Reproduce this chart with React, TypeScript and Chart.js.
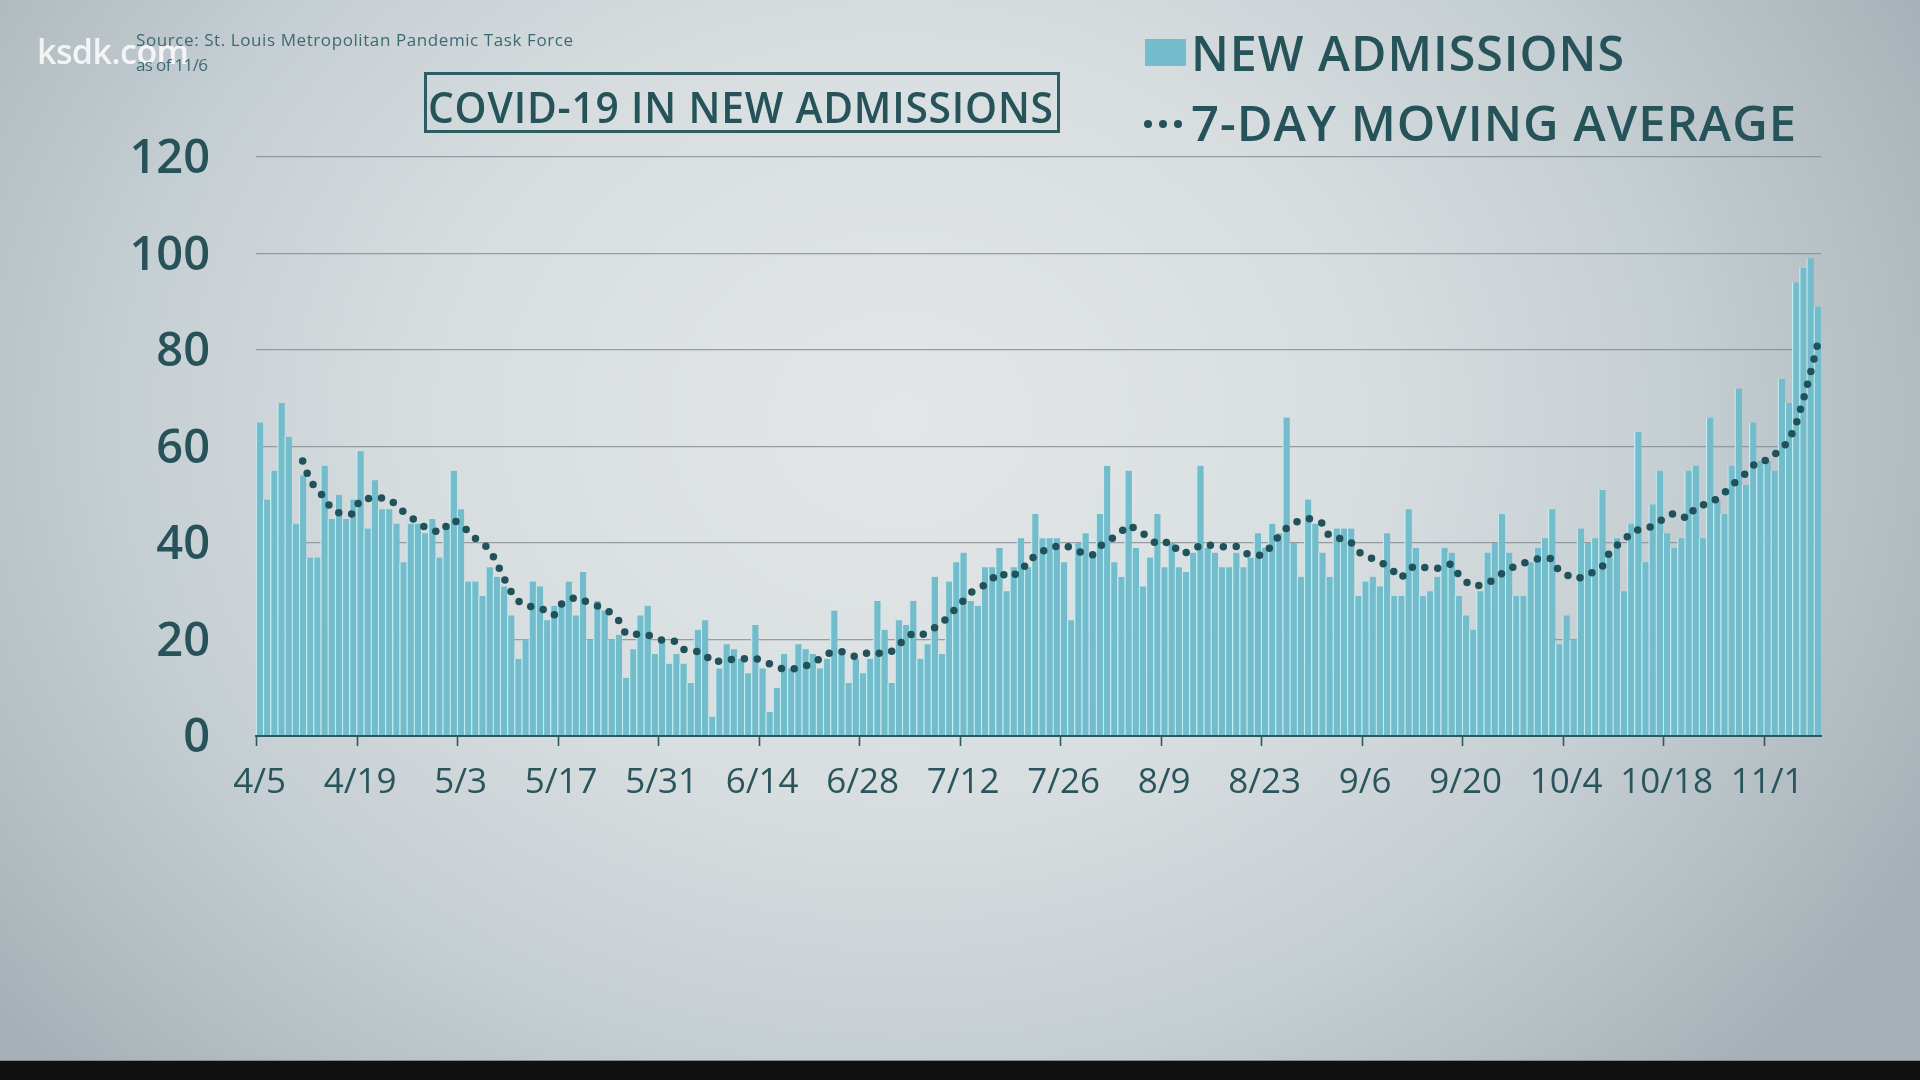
import React, { useEffect, useRef } from 'react';
import { Chart, registerables } from 'chart.js';

Chart.register(...registerables);

// ---------- DATA ----------
const START_DATE = [2020, 3, 5]; // April 5
const ADMISSIONS: number[] = [
  65, 49, 55, 69, 62, 44, 54, 37, 37, 56,
  45, 50, 45, 49, 59, 43, 53, 47, 47, 44,
  36, 44, 44, 42, 45, 37, 44, 55, 47, 32,
  32, 29, 35, 33, 31, 25, 16, 20, 32, 31,
  24, 27, 28, 32, 25, 34, 20, 28, 26, 20,
  21, 12, 18, 25, 27, 17, 20, 15, 17, 15,
  11, 22, 24, 4, 14, 19, 18, 16, 13, 23,
  14, 5, 10, 17, 14, 19, 18, 17, 14, 16,
  26, 17, 11, 16, 13, 16, 28, 22, 11, 24,
  23, 28, 16, 19, 33, 17, 32, 36, 38, 28,
  27, 35, 35, 39, 30, 35, 41, 35, 46, 41,
  41, 41, 36, 24, 40, 42, 38, 46, 56, 36,
  33, 55, 39, 31, 37, 46, 35, 40, 35, 34,
  38, 56, 39, 38, 35, 35, 38, 35, 37, 42,
  39, 44, 42, 66, 40, 33, 49, 44, 38, 33,
  43, 43, 43, 29, 32, 33, 31, 42, 29, 29,
  47, 39, 29, 30, 33, 39, 38, 29, 25, 22,
  30, 38, 40, 46, 38, 29, 29, 36, 39, 41,
  47, 19, 25, 20, 43, 40, 41, 51, 37, 41,
  30, 44, 63, 36, 48, 55, 42, 39, 41, 55,
  56, 41, 66, 49, 46, 56, 72, 52, 65, 57,
  57, 55, 74, 69, 94, 97, 99, 89,
];
const MOVING_AVG: (number | null)[] = [
  null, null, null, null, null, null,
  57, 53, 51, 49.5, 47, 46.3, 46, 46, 49, 49.2,
  49.4, 49.3, 49.1, 48, 46.5, 45.3, 44.5, 43.3, 42.8, 42.1,
  43.5, 44.8, 43.8, 42.5, 41, 40, 38.7, 36, 32.8, 30,
  28, 27, 26.8, 26.6, 25.8, 25, 27.3, 28.2, 28.7, 28.2,
  27.5, 27, 26.3, 25.5, 24, 21.2, 21, 21.2, 21, 20.3,
  19.9, 19.8, 19.6, 18, 17.6, 17.5, 17, 15.3, 15.5, 15.8,
  15.9, 16, 16, 16.1, 15.7, 15, 14.5, 13.8, 13.9, 14,
  14.5, 15, 16, 17.1, 17.3, 17.5, 17, 16.4, 16.8, 17.4,
  17.2, 17, 17.5, 18.7, 20.5, 21.2, 20.8, 21.5, 22.4, 23.5,
  24.7, 26.5, 28, 29.7, 30.5, 31.3, 32.5, 33.9, 33.2, 33,
  35, 35.3, 37.6, 38.2, 39, 39.3, 39.6, 39, 38.3, 37.8,
  37.5, 39.3, 40.2, 41.2, 42.3, 43.7, 43, 42, 41, 39.7,
  40, 40.3, 38, 38, 38.6, 39.5, 39.6, 39.4, 39.2, 39.3,
  39.3, 38.2, 37.4, 37.4, 37.6, 39.6, 41.5, 43, 44.2, 44.6,
  45.1, 44.7, 44.1, 41.4, 41, 40.9, 40.2, 38.3, 37.2, 36.8,
  36.2, 35.2, 34.1, 32.7, 34.5, 35.3, 35, 34.8, 34.7, 35.2,
  35.7, 33.5, 32, 31, 31.2, 31.6, 32.5, 33.6, 34.5, 35.3,
  35.8, 36.3, 36.7, 36.8, 36.8, 34.2, 33.5, 32.6, 32.8, 33.3,
  34.2, 35, 37.9, 39.5, 40.3, 42.2, 42.7, 42.8, 43.5, 44.5,
  45.3, 46.2, 45.6, 45.1, 47.5, 47.9, 48.2, 49.2, 50.3, 52,
  53, 54.4, 56, 57.1, 57.1, 58.3, 59.5, 61.2, 64.5, 69.5,
  75, 81,
];
const TICK_LABELS: string[] = ['4/5', '4/19', '5/3', '5/17', '5/31', '6/14', '6/28', '7/12', '7/26', '8/9', '8/23', '9/6', '9/20', '10/4', '10/18', '11/1'];
const Y_MIN = 0;
const Y_MAX = 120;
const Y_STEP = 20;

function makeDates(n: number): string[] {
  const out: string[] = [];
  const d = new Date(START_DATE[0], START_DATE[1], START_DATE[2]);
  for (let i = 0; i < n; i++) {
    out.push(`${d.getMonth() + 1}/${d.getDate()}`);
    d.setDate(d.getDate() + 1);
  }
  return out;
}
const DATES = makeDates(ADMISSIONS.length);

// ---------- STYLE ----------
const FONT = "'Open Sans', sans-serif";
const DARK = '#26535a';
const AXIS = '#2d5a61';
const BAR = '#72bccb';

let measureCtx: CanvasRenderingContext2D | null = null;
function measure(text: string, font: string): number {
  if (!measureCtx) measureCtx = document.createElement('canvas').getContext('2d');
  measureCtx!.font = font;
  return measureCtx!.measureText(text).width;
}

type FitProps = {
  text: string; left: number; capCenter: number; size: number; weight: number;
  color: string; width: number; opacity?: number; mode?: 'stretch' | 'space'; spacingEm?: number;
};
function FitText({ text, left, capCenter, size, weight, color, width, opacity, mode = 'space', spacingEm = 0.02 }: FitProps) {
  const font = `${weight} ${size}px 'Open Sans'`;
  const w = measure(text, font);
  let ls = (width - w) / Math.max(1, text.length - 1);
  let k = 1;
  if (mode === 'stretch') {
    ls = spacingEm * size;
    k = width / (w + ls * (text.length - 1));
  }
  const top = capCenter - 0.531 * size;
  return (
    <div
      style={{
        position: 'absolute', left, top, fontFamily: FONT, fontSize: size, fontWeight: weight,
        lineHeight: `${size}px`, letterSpacing: ls, color, whiteSpace: 'nowrap', opacity: opacity ?? 1,
        transform: `scaleX(${k})`, transformOrigin: 'left center',
      }}
    >
      {text}
    </div>
  );
}

export default function App() {
  const canvasRef = useRef<HTMLCanvasElement | null>(null);

  useEffect(() => {
    if (!canvasRef.current) return;
    const tickSet = new Set(TICK_LABELS);

    const dateTicks = {
      id: 'dateTicks',
      afterDraw(chart: any) {
        const xs = chart.scales.x;
        const c = chart.ctx;
        const half = (xs.getPixelForValue(1) - xs.getPixelForValue(0)) / 2;
        c.save();
        c.strokeStyle = AXIS;
        c.lineWidth = 1.6;
        DATES.forEach((d, i) => {
          if (!tickSet.has(d)) return;
          const px = Math.round(xs.getPixelForValue(i) - half) + 0.5;
          c.beginPath();
          c.moveTo(px, xs.top);
          c.lineTo(px, xs.top + 10);
          c.stroke();
        });
        c.restore();
      },
    };

    const chart = new Chart(canvasRef.current, {
      type: 'bar',
      data: {
        labels: DATES,
        datasets: [
          {
            type: 'line',
            label: '7-DAY MOVING AVERAGE',
            data: MOVING_AVG,
            borderColor: '#21525a',
            borderWidth: 7.5,
            borderDash: [0, 13],
            borderCapStyle: 'round',
            borderJoinStyle: 'round',
            pointRadius: 0,
            fill: false,
            tension: 0,
            order: 1,
          } as any,
          {
            type: 'bar',
            label: 'NEW ADMISSIONS',
            data: ADMISSIONS,
            backgroundColor: BAR,
            borderColor: '#c2ebf2',
            borderWidth: { left: 1.3, right: 0, top: 0, bottom: 0 },
            borderSkipped: 'bottom',
            barPercentage: 1,
            categoryPercentage: 1,
            order: 2,
          } as any,
        ],
      },
      options: {
        responsive: false,
        maintainAspectRatio: false,
        animation: false,
        devicePixelRatio: 1,
        layout: { padding: { top: 157, right: 99, bottom: 0, left: 0 } },
        plugins: { legend: { display: false }, tooltip: { enabled: false }, title: { display: false } },
        scales: {
          x: {
            type: 'category',
            offset: true,
            grid: {
              display: true,
              drawOnChartArea: false,
              drawTicks: true,
              tickLength: 10,
              offset: true,
              tickColor: 'rgba(0,0,0,0)',
            },
            border: { display: true, color: AXIS, width: 2, z: 1 },
            ticks: {
              autoSkip: false,
              maxRotation: 0,
              minRotation: 0,
              padding: 16,
              color: '#2a555d',
              font: { family: 'Open Sans', size: 35, weight: '500' },
              callback: (_v: any, idx: number) => (tickSet.has(DATES[idx]) ? DATES[idx] : null),
            },
            afterFit: (s: any) => { s.height = 1080 - 736; },
          },
          y: {
            min: Y_MIN,
            max: Y_MAX,
            ticks: {
              stepSize: Y_STEP,
              padding: 46,
              labelOffset: 3,
              color: '#27525a',
              font: { family: 'Open Sans', size: 47, weight: '600' },
            },
            grid: { color: 'rgba(125,135,140,0.75)', lineWidth: 1.2, drawTicks: false },
            border: { display: false },
            afterFit: (s: any) => { s.width = 256; },
          },
        },
      } as any,
      plugins: [dateTicks],
    });
    return () => chart.destroy();
  }, []);

  return (
    <div
      style={{
        position: 'fixed', left: 0, top: 0, width: 1920, height: 1080, overflow: 'hidden',
        background:
          'radial-gradient(ellipse 1150px 950px at 900px 420px, #e3e6e7 0%, #d8dee0 40%, #c5ced2 68%, #a6b1b7 100%)',
      }}
    >
      <canvas ref={canvasRef} width={1920} height={1080} style={{ position: 'absolute', left: 0, top: 0, display: 'block' }} />

      {/* watermark */}
      <FitText text="ksdk.com" left={37} capCenter={52} size={34} weight={600} color="#ffffff" width={152} opacity={0.82} />

      {/* source */}
      <FitText text="Source: St. Louis Metropolitan Pandemic Task Force" left={136} capCenter={40.5} size={17} weight={400} color="#3c6a74" width={437} />
      <FitText text="as of 11/6" left={136} capCenter={65} size={17} weight={400} color="#3c6a74" width={72} />

      {/* title box */}
      <div
        style={{
          position: 'absolute', left: 424, top: 72, width: 636, height: 61, boxSizing: 'border-box',
          border: '3px solid #2d5c63',
        }}
      />
      <FitText text="COVID-19 IN NEW ADMISSIONS" left={428} capCenter={107.5} size={44} weight={600} color={DARK} width={625} mode="stretch" />

      {/* legend */}
      <div style={{ position: 'absolute', left: 1145, top: 39, width: 41, height: 27, background: '#74bdcc' }} />
      <FitText text="NEW ADMISSIONS" left={1191} capCenter={54} size={49} weight={600} color={DARK} width={433} mode="stretch" />
      {[1148, 1163, 1178].map((cx) => (
        <div
          key={cx}
          style={{
            position: 'absolute', left: cx - 4.25, top: 124 - 4.25, width: 8.5, height: 8.5, borderRadius: '50%',
            background: '#22535a',
          }}
        />
      ))}
      <FitText text="7-DAY MOVING AVERAGE" left={1191} capCenter={124.5} size={49} weight={600} color={DARK} width={605} mode="stretch" />

      {/* bottom strip */}
      <div style={{ position: 'absolute', left: 0, top: 1060, width: 1920, height: 1, background: '#7f878b' }} />
      <div style={{ position: 'absolute', left: 0, top: 1061, width: 1920, height: 19, background: '#111111' }} />
    </div>
  );
}
